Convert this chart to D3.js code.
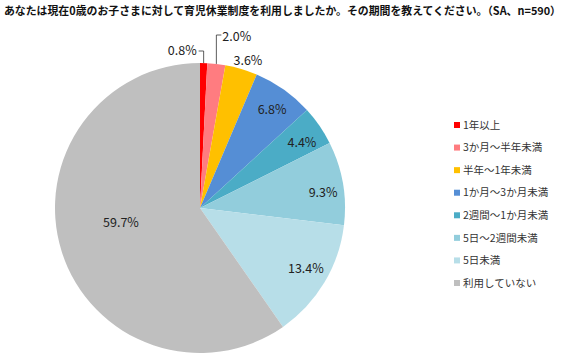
<!DOCTYPE html>
<html>
<head>
<meta charset="utf-8">
<script src="https://cdn.jsdelivr.net/npm/d3@7"></script>
<style>
  body { margin: 0; background: #fff; }
  text { font-family: "Noto Sans CJK JP", "Noto Sans", sans-serif; }
</style>
</head>
<body>
<div class="chart"></div>
<script>
const categories = ['1年以上', '3か月～半年未満', '半年～1年未満', '1か月～3か月未満', '2週間～1か月未満', '5日～2週間未満', '5日未満', '利用していない']
const values = [0.8, 2.0, 3.6, 6.8, 4.4, 9.3, 13.4, 59.7]
const colors = ['#FF0000', '#FF7C80', '#FFC000', '#558ED5', '#4BACC6', '#92CDDC', '#B7DEE8', '#BFBFBF']
const title = 'あなたは現在0歳のお子さまに対して育児休業制度を利用しましたか。その期間を教えてください。（SA、n=590）'

const width = 566, height = 362
const cx = 200, cy = 208, r = 145

const svg = d3.select('.chart').append('svg')
    .attr('width', width)
    .attr('height', height)

svg.append('text')
    .attr('x', 4)
    .attr('y', 15)
    .attr('font-size', 11)
    .attr('font-weight', 'bold')
    .attr('fill', '#111')
    .attr('textLength', 557)
    .attr('lengthAdjust', 'spacingAndGlyphs')
    .text(title)

const pie = d3.pie().sort(null).value(d => d)
const arcs = pie(values)
const arc = d3.arc().innerRadius(0).outerRadius(r)

const g = svg.append('g').attr('transform', `translate(${cx},${cy})`)

g.selectAll('path')
    .data(arcs)
    .join('path')
    .attr('d', arc)
    .attr('fill', (d, i) => colors[i])

// label placement: [radius factor, angle nudge in degrees]; null = leader line
const labelPos = [null, null, [1.066, 1.5], [0.84, 1], [0.834, 2], [0.855, 3], [0.843, -1], [0.555, 6.7]]
const fmt = d => d.toFixed(1) + '%'

arcs.forEach((d, i) => {
    if (labelPos[i] == null) return
    const a = (d.startAngle + d.endAngle) / 2 + labelPos[i][1] * Math.PI / 180
    const rr = r * labelPos[i][0]
    g.append('text')
        .attr('x', Math.sin(a) * rr)
        .attr('y', -Math.cos(a) * rr)
        .attr('text-anchor', 'middle')
        .attr('dy', '0.35em')
        .attr('font-size', 12.5)
        .attr('fill', '#222')
        .text(fmt(values[i]))
})

// leader lines for 0.8% and 2.0%
const a0 = (arcs[0].startAngle + arcs[0].endAngle) / 2
const p0 = [Math.sin(a0) * r, -Math.cos(a0) * r]
g.append('polyline')
    .attr('points', [[p0[0], p0[1]], [p0[0], -157], [p0[0] - 5, -157]].join(' '))
    .attr('fill', 'none').attr('stroke', '#333').attr('stroke-width', 0.8)
g.append('text')
    .attr('x', p0[0] - 7).attr('y', -157).attr('dy', '0.35em')
    .attr('text-anchor', 'end').attr('font-size', 12.5).attr('fill', '#222')
    .text(fmt(values[0]))

const a1 = (arcs[1].startAngle + arcs[1].endAngle) / 2
const p1 = [Math.sin(a1) * r, -Math.cos(a1) * r]
g.append('polyline')
    .attr('points', [[p1[0], p1[1]], [p1[0], -173], [p1[0] + 5, -173]].join(' '))
    .attr('fill', 'none').attr('stroke', '#333').attr('stroke-width', 0.8)
g.append('text')
    .attr('x', p1[0] + 6).attr('y', -171).attr('dy', '0.35em')
    .attr('text-anchor', 'start').attr('font-size', 12.5).attr('fill', '#222')
    .text(fmt(values[1]))

// legend
const legend = svg.append('g')
const ly = d3.scalePoint().domain(categories).range([125, 283])
categories.forEach((c, i) => {
    legend.append('rect')
        .attr('x', 454).attr('y', ly(c) - 3)
        .attr('width', 6).attr('height', 6)
        .attr('fill', colors[i])
    legend.append('text')
        .attr('x', 463).attr('y', ly(c)).attr('dy', '0.35em')
        .attr('font-size', 10.5).attr('fill', '#333')
        .text(c)
})
</script>
</body>
</html>
